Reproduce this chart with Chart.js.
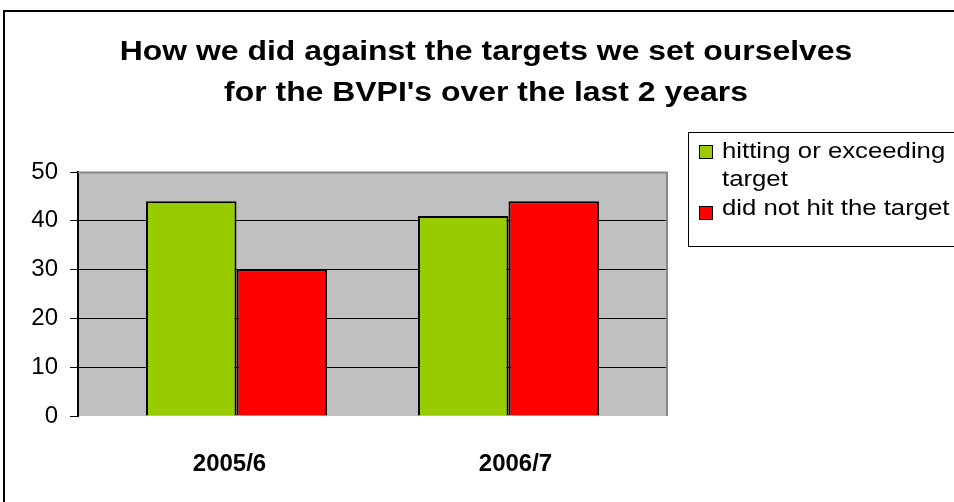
<!DOCTYPE html>
<html>
<head>
<meta charset="utf-8">
<script src="https://cdn.jsdelivr.net/npm/chart.js@4/dist/chart.umd.min.js"></script>
<style>
  html, body { margin: 0; padding: 0; background: #ffffff; }
  #wrap { width: 954px; height: 502px; position: relative; }
</style>
</head>
<body>
<div id="wrap"><canvas id="c" width="954" height="502"></canvas></div>
<script>
const categories = ["2005/6", "2006/7"];
const hitting = [44, 41];
const missed = [30, 44];
const seriesNames = [["hitting or exceeding", "target"], ["did not hit the target"]];
const titleLines = ["How we did against the targets we set ourselves", "for the BVPI's over the last 2 years"];
const yTicks = [0, 10, 20, 30, 40, 50];

const FONT = "'Liberation Sans', Arial, Helvetica, sans-serif";
const GREEN = "#99cc00";
const RED = "#ff0000";

const frame = {
  id: 'frame',
  beforeDraw(chart) {
    const ctx = chart.ctx, a = chart.chartArea;
    ctx.save();
    ctx.fillStyle = '#ffffff';
    ctx.fillRect(0, 0, chart.width, chart.height);
    ctx.strokeStyle = '#000000';
    ctx.lineWidth = 2;
    ctx.strokeRect(4, 11, 1000, 600);
    ctx.fillStyle = '#c0c0c0';
    ctx.fillRect(a.left, a.top, a.right - a.left, a.bottom - a.top);
    ctx.restore();
  },
  afterDraw(chart) {
    const ctx = chart.ctx, a = chart.chartArea;
    ctx.save();
    // plot border (grey) top, right
    ctx.strokeStyle = '#888888';
    ctx.lineWidth = 2;
    ctx.beginPath();
    ctx.moveTo(a.left, a.top + 0.5);
    ctx.lineTo(a.right, a.top + 0.5);
    ctx.lineTo(a.right, a.bottom);
    ctx.stroke();
    // title
    ctx.fillStyle = '#000000';
    ctx.font = "bold 28px " + FONT;
    ctx.textAlign = 'center';
    ctx.textBaseline = 'alphabetic';
    [60, 101].forEach((y, i) => {
      ctx.save();
      ctx.translate(486, y);
      ctx.scale(1.14, 1);
      ctx.fillText(titleLines[i], 0, 0);
      ctx.restore();
    });
    // legend box
    ctx.strokeStyle = '#000000';
    ctx.lineWidth = 1;
    ctx.strokeRect(688.5, 132.5, 400, 114);
    const colors = chart.data.datasets.map(d => d.backgroundColor);
    const boxes = [[699, 145], [699, 206]];
    const lines = [[158, 186], [215]];
    ctx.font = "22px " + FONT;
    ctx.textAlign = 'left';
    chart.data.datasets.forEach((ds, i) => {
      ctx.fillStyle = colors[i];
      ctx.fillRect(boxes[i][0], boxes[i][1], 14, 14);
      ctx.strokeStyle = '#000000';
      ctx.lineWidth = 1;
      ctx.strokeRect(boxes[i][0] + 0.5, boxes[i][1] + 0.5, 13, 13);
      ctx.fillStyle = '#000000';
      seriesNames[i].forEach((t, j) => {
        ctx.save();
        ctx.translate(722, lines[i][j]);
        ctx.scale(1.17, 1);
        ctx.fillText(t, 0, 0);
        ctx.restore();
      });
    });
    ctx.restore();
  }
};

const toPoints = arr => arr.map((v, i) => ({ x: i, y: v }));
const labelShift = [-0.0257, 0.0257];

new Chart(document.getElementById('c'), {
  type: 'bar',
  data: {
    datasets: [
      { label: seriesNames[0].join(' '), data: toPoints(hitting), backgroundColor: GREEN, borderColor: '#000000', borderWidth: 2, categoryPercentage: 0.6654, barPercentage: 1 },
      { label: seriesNames[1].join(' '), data: toPoints(missed), backgroundColor: RED, borderColor: '#000000', borderWidth: 2, categoryPercentage: 0.6654, barPercentage: 1 }
    ]
  },
  plugins: [frame],
  options: {
    responsive: false,
    animation: false,
    layout: { padding: { left: 0, right: 287, top: 172, bottom: 0 } },
    plugins: { legend: { display: false }, title: { display: false }, tooltip: { enabled: false } },
    scales: {
      x: {
        type: 'linear',
        offset: false,
        min: -0.5827,
        max: 1.5827,
        afterBuildTicks(scale) { scale.ticks = categories.map((c, i) => ({ value: i + labelShift[i] })); },
        afterFit(scale) { scale.height = 86; },
        grid: { display: false, drawTicks: false, offset: false },
        border: { display: false },
        ticks: {
          autoSkip: false,
          maxRotation: 0,
          padding: 34,
          color: '#000000',
          font: { family: FONT, size: 24, weight: 'bold' },
          callback: (v, i) => categories[i] !== undefined ? categories[i] : ''
        }
      },
      y: {
        min: 0,
        max: 50,
        afterBuildTicks(scale) { scale.ticks = yTicks.map(v => ({ value: v })); },
        afterFit(scale) { scale.width = 78; },
        grid: {
          color: (c) => (c.tick && (c.tick.value === 0 || c.tick.value === 50)) ? 'rgba(0,0,0,0)' : '#000000',
          tickColor: '#000000',
          tickLength: 8,
          lineWidth: 1
        },
        border: { display: true, color: '#000000', width: 2 },
        ticks: {
          padding: 12,
          color: '#000000',
          font: { family: FONT, size: 24 }
        }
      }
    }
  }
});
</script>
</body>
</html>
